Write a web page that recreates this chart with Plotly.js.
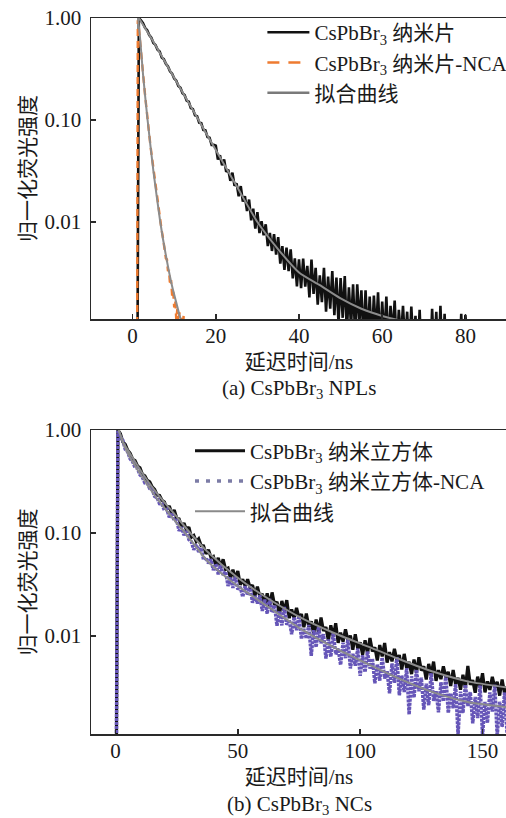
<!DOCTYPE html>
<html><head><meta charset="utf-8">
<script src="https://cdn.plot.ly/plotly-3.0.1.min.js"></script>
<style>
html,body{margin:0;padding:0;background:#fff;overflow:hidden;width:506px;height:818px}
#a,#b{position:absolute;left:0;width:530px}
#a{top:0;height:410px;z-index:1}
#b{top:400px;height:418px;z-index:2}
</style>
</head><body><div id="a"></div><div id="b"></div>
<script>
// ---------- (a) CsPbBr3 nanoplatelets ----------
// measured decay, sampled from t0 every dt (ns)
const nplT0 = 1.0, nplDt = 0.5;
const nplDecay = [1e-5,1.0,0.95,0.89,0.80,0.76,0.68,0.64,0.57,0.545,0.49,0.47,0.41,0.395,0.355,0.335,0.30,0.285,
0.255,0.243,0.216,0.207,0.183,0.176,0.155,0.151,0.131,0.128,0.111,0.109,0.094,0.093,0.080,0.079,0.068,0.067,0.057,0.057,
0.056,0.041,0.045,0.036,0.041,0.031,0.0325,0.0253,0.0305,0.0227,0.0239,0.0179,0.0225,0.0159,0.0179,0.0128,0.0166,0.0104,0.0135,0.0086,
0.0125,0.0078,0.0102,0.0074,0.0095,0.0058,0.0078,0.0052,0.0076,0.0048,0.0071,0.0039,0.0058,0.0034,0.0056,0.0033,0.0054,0.0028,0.0044,0.00234,
0.0043,0.00224,0.00437,0.00232,0.00372,0.00182,0.00427,0.00197,0.00355,0.00155,0.0030,0.00164,0.00355,0.00132,0.00292,0.00141,0.00331,0.00122,0.00285,0.00102,
0.00282,0.00115,0.00295,0.00083,0.00229,0.00095,0.00245,0.00076,0.00245,0.00102,0.00214,0.00069,0.00214,0.00074,0.00186,0.00065,0.0019,0.00079,0.00204,0.00063,
0.00166,0.00071,0.00186,0.00063,0.00151,0.00079,0.0017,0.00056,0.00138,0.00071,0.00151,0.00063,0.00132,0.0005,0.00148,0.00063,0.0012,0.0005,0.00138,0.0004,
0.00063,0.0004,0.00079,0.0004,0.00141,0.0005,0.00132,0.0004,0.00151,0.0004,0.00126,0.0004,0.0005,0.0004,0.00063,0.0004,0.0005,0.0004,0.00126,0.0004,
0.00123,0.0004,0.0003];
const nplNcaT0 = 1.0, nplNcaDt = 0.25;
const nplNcaDecay = [1e-5,0.95,0.80,0.60,0.46,0.37,0.29,0.22,0.175,0.14,0.108,0.088,0.072,0.058,0.048,0.040,0.032,0.027,0.022,0.019,
0.016,0.0135,0.0108,0.0098,0.0082,0.0072,0.0061,0.0056,0.0044,0.0043,0.0033,0.0034,0.0024,0.0027,0.0019,0.0021,0.00145,0.0017,0.0011,0.0014,
0.0009,0.0013,0.0008,0.00115,0.0007,0.0012,0.0006,0.0011,0.0005,0.0004,0.0003];
const nplFitX = [1.5,5,10,15,20,25,30,35,40,45,50,55,60,65,70];
const nplFitY = [1.0,0.585,0.259,0.115,0.0508,0.0225,0.0100,0.0054,0.0032,0.0024,0.00178,0.00141,0.0012,0.00107,0.001];
const nplNcaFitX = [1.3,1.8,2.5,3.6,5,6.65,8,9.5,11.4,12.5];
const nplNcaFitY = [1.0,0.63,0.282,0.1,0.0316,0.01,0.0047,0.00234,0.00117,0.00079];

// ---------- (b) CsPbBr3 nanocubes ----------
const ncT0 = 0, ncDt = 1;
const ncDecay = [1e-5,1.0,0.92,0.766,0.724,0.636,0.593,0.521,0.505,0.447,0.43,0.372,0.358,0.324,0.313,0.28,0.265,0.234,0.232,0.208,
0.20,0.170,0.183,0.154,0.167,0.140,0.137,0.115,0.125,0.107,0.114,0.091,0.0946,0.0828,0.0879,0.0755,0.075,0.0627,0.0689,0.0582,
0.0593,0.0482,0.0575,0.0458,0.0556,0.0443,0.0456,0.0363,0.0441,0.0361,0.0427,0.0314,0.0356,0.0304,0.0356,0.0296,0.0312,0.0247,0.0302,0.024,
0.0257,0.0198,0.026,0.0196,0.0265,0.02,0.0215,0.0163,0.0219,0.0173,0.0223,0.0149,0.0181,0.0149,0.0188,0.0149,0.0163,0.0122,0.0165,0.0123,
0.0139,0.0105,0.0145,0.0107,0.0151,0.0112,0.0122,0.00904,0.0127,0.00984,0.0133,0.00859,0.0108,0.00881,0.0116,0.00904,0.0101,0.00736,0.0104,0.00755,
0.00867,0.00659,0.0091,0.00676,0.00955,0.0071,0.00778,0.00578,0.00817,0.00634,0.00857,0.00553,0.00698,0.00568,0.0075,0.00582,0.00653,0.00474,0.00671,0.00488,
0.00561,0.00427,0.00592,0.0044,0.00622,0.00462,0.00508,0.00378,0.00536,0.00417,0.00564,0.00367,0.00467,0.00382,0.00508,0.00397,0.00449,0.00328,0.00467,0.00341,
0.00394,0.00301,0.0042,0.00313,0.00513,0.00336,0.00373,0.00281,0.00403,0.00317,0.00435,0.00284,0.00363,0.003,0.00401,0.00316,0.00359,0.00264,0.00378,0.00278,
0.00324];
const ncNcaDecay = [1e-5,0.98,0.861,0.796,0.65,0.614,0.525,0.493,0.432,0.426,0.367,0.347,0.307,0.305,0.27,0.266,0.227,0.22,0.193,0.191,
0.166,0.17,0.142,0.157,0.131,0.133,0.105,0.1135,0.095,0.107,0.0865,0.0824,0.069,0.0773,0.0656,0.0718,0.0548,0.0579,0.0507,0.0555,
0.0436,0.0501,0.0398,0.0491,0.039,0.0423,0.0306,0.0371,0.0294,0.0377,0.0284,0.03,0.024,0.0305,0.0249,0.0305,0.0211,0.0244,0.0207,0.0248,
0.0175,0.0226,0.0165,0.023,0.0169,0.0199,0.0126,0.0175,0.0127,0.0191,0.0129,0.0144,0.0104,0.0153,0.0114,0.0158,0.00935,0.0117,0.00944,0.0128,
0.00643,0.0114,0.00778,0.0123,0.00849,0.0104,0.00605,0.00925,0.0063,0.0107,0.00665,0.00757,0.00524,0.00861,0.0061,0.00935,0.00485,0.00671,0.00515,0.00755,
0.0041,0.00652,0.00446,0.00708,0.00484,0.00604,0.00348,0.00533,0.00369,0.00619,0.00387,0.00455,0.00278,0.00542,0.00351,0.00624,0.00266,0.00413,0.00286,0.00488,
0.00173,0.00407,0.00252,0.00471,0.00291,0.00394,0.00193,0.00345,0.00213,0.00437,0.00235,0.00292,0.00182,0.00356,0.00232,0.00416,0.00179,0.00279,0.00199,0.00341,
0.00109,0.00288,0.00179,0.00336,0.00209,0.00286,0.00142,0.00256,0.0016,0.00332,0.00109,0.00229,0.00143,0.00283,0.00185,0.00338,0.00106,0.0023,0.00131,0.00284,
0.00115];
const ncFitX = [1.3,3.4,6,10.2,17.1,23.9,29.5,37.5,49.7,62,75.7,89.3,103,116.6,130.3,143.9,160];
const ncFitY = [1.0,0.741,0.589,0.407,0.240,0.155,0.107,0.0661,0.0372,0.0234,0.0151,0.0107,0.00794,0.00589,0.00447,0.00363,0.00316];
const ncNcaFitY = [1.0,0.716,0.537,0.372,0.214,0.135,0.0933,0.0537,0.0309,0.0195,0.01175,0.00776,0.00537,0.0038,0.00282,0.00229,0.00204];

// ---------- labels ----------
const yTickVals = [1, 0.1, 0.01];
const yTickText = ['1.00', '0.10', '0.01'];
const xTicksA = [0, 20, 40, 60, 80];
const xTicksB = [0, 50, 100, 150];
const namesA = ['CsPbBr<sub>3</sub> 纳米片', 'CsPbBr<sub>3</sub> 纳米片-NCA', '拟合曲线'];
const namesB = ['CsPbBr<sub>3</sub> 纳米立方体', 'CsPbBr<sub>3</sub> 纳米立方体-NCA', '拟合曲线'];
const xTitle = '延迟时间/ns';
const yTitle = '归一化荧光强度';
const captionA = '(a) CsPbBr<sub>3</sub> NPLs';
const captionB = '(b) CsPbBr<sub>3</sub> NCs';

const FONT = "'Liberation Serif','Noto Sans CJK SC',serif";
const AX = '#2a2a2a';
const GRAY = '#8c8c8c';

function xAxis(range, ticks) {
  return {range: range, tickvals: ticks, ticks: 'inside', ticklen: 5, tickwidth: 1.5, tickcolor: AX,
    showline: true, linecolor: AX, linewidth: 1.5, mirror: true, showgrid: false, zeroline: false,
    tickfont: {size: 21, color: '#1a1a1a'}, ticklabelstandoff: -3,
    title: {text: xTitle, font: {size: 21, color: '#1a1a1a'}, standoff: 7}};
}
function yAxis() {
  return {type: 'log', range: [-2.951, 0], tickvals: yTickVals, ticktext: yTickText,
    ticks: 'inside', ticklen: 5, tickwidth: 1.5, tickcolor: AX,
    showline: true, linecolor: AX, linewidth: 1.5, mirror: true, showgrid: false, zeroline: false,
    tickfont: {size: 21, color: '#1a1a1a'}, ticklabelstandoff: 4,
    title: {text: yTitle, font: {size: 21, color: '#1a1a1a'}, standoff: 3}};
}
function leg(x, y, w) {
  return {x: x, y: y, xanchor: 'left', yanchor: 'top', bgcolor: 'rgba(0,0,0,0)', borderwidth: 0,
    font: {size: 21, family: FONT, color: '#1a1a1a'}, itemwidth: w, tracegroupgap: 0};
}
function caption(t) {
  return {text: t, xref: 'paper', yref: 'paper', x: 0.5, y: -0.232, xanchor: 'center', yanchor: 'middle',
    showarrow: false, font: {size: 21, color: '#1a1a1a'}};
}

const tracesA = [
  {x0: nplT0, dx: nplDt, y: nplDecay, mode: 'lines', line: {color: '#111', width: 2.6}, showlegend: false},
  {x0: nplNcaT0, dx: nplNcaDt, y: nplNcaDecay, mode: 'lines', line: {color: '#ee7b30', width: 2.4, dash: '7px,5px'}, showlegend: false},
  {x: nplFitX, y: nplFitY, mode: 'lines', line: {color: GRAY, width: 2, shape: 'spline', smoothing: 0.6}, showlegend: false},
  {x: nplNcaFitX, y: nplNcaFitY, mode: 'lines', line: {color: GRAY, width: 2, shape: 'spline', smoothing: 0.6}, showlegend: false},
  {x: [null], y: [null], mode: 'lines', name: namesA[0], line: {color: '#111', width: 2.5}},
  {x: [null], y: [null], mode: 'lines', name: namesA[1], line: {color: '#ee7b30', width: 2.5, dash: '12px,9px'}},
  {x: [null], y: [null], mode: 'lines', name: namesA[2], line: {color: '#7a7a7a', width: 2.5}}
];
const layoutA = {
  width: 530, height: 410, margin: {l: 91, r: 23, t: 15, b: 91},
  paper_bgcolor: '#fff', plot_bgcolor: '#fff',
  font: {family: FONT, size: 21, color: '#1a1a1a'},
  xaxis: xAxis([-10, 90], xTicksA), yaxis: yAxis(),
  legend: leg(0.412, 1.02, 42),
  annotations: [caption(captionA)]
};

const tracesB = [
  {x0: ncT0, dx: ncDt, y: ncDecay, mode: 'lines', line: {color: '#111', width: 3.2}, showlegend: false},
  {x0: ncT0, dx: ncDt, y: ncNcaDecay, mode: 'lines', line: {color: '#6656b8', width: 3.5, dash: '3px,1px'}, showlegend: false},
  {x: ncFitX, y: ncFitY, mode: 'lines', line: {color: GRAY, width: 2, shape: 'spline', smoothing: 0.6}, showlegend: false},
  {x: ncFitX, y: ncNcaFitY, mode: 'lines', line: {color: GRAY, width: 2, shape: 'spline', smoothing: 0.6}, showlegend: false},
  {x: [null], y: [null], mode: 'lines', name: namesB[0], line: {color: '#111', width: 3}},
  {x: [null], y: [null], mode: 'lines', name: namesB[1], line: {color: '#7c7ca6', width: 3.5, dash: '4px,7px'}},
  {x: [null], y: [null], mode: 'lines', name: namesB[2], line: {color: '#8a8a8a', width: 2}}
];
const layoutB = {
  width: 530, height: 418, margin: {l: 91, r: 23, t: 30, b: 84},
  paper_bgcolor: 'rgba(0,0,0,0)', plot_bgcolor: '#fff',
  font: {family: FONT, size: 21, color: '#1a1a1a'},
  xaxis: xAxis([-10, 160], xTicksB), yaxis: yAxis(),
  legend: leg(0.238, 0.998, 50),
  annotations: [caption(captionB)]
};

const cfg = {staticPlot: true, displayModeBar: false};
Plotly.newPlot('a', tracesA, layoutA, cfg);
Plotly.newPlot('b', tracesB, layoutB, cfg);
</script></body></html>
